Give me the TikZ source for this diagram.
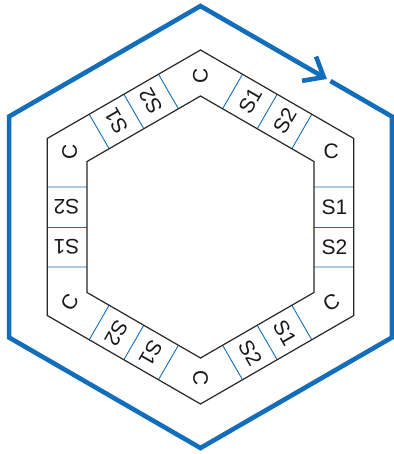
\documentclass[tikz,border=0pt]{standalone}
\usepackage{fontspec}
\setmainfont{Liberation Sans}
\usetikzlibrary{arrows.meta}
\definecolor{ringblue}{RGB}{18,110,186}

\begin{document}
\begin{tikzpicture}[scale=0.3515,
    ring/.style={ringblue, line width=4.6pt, line join=miter},
    band/.style={black!85, line width=1.2pt},
    divider/.style={ringblue, line width=0.9pt},
    cell/.style={black!90, font=\fontsize{21}{24}\selectfont, inner sep=0pt}]
    \useasboundingbox (-20.05, -22.7) rectangle (19.35, 22.7);

    % rotation arrow
    \coordinate (gap) at (12.99, 14.6);
    \coordinate (tip) at (12.64, 14.8);
    \draw[ring, -{Straight Barb[length=17pt, width=28pt]}] (gap) -- (30:22.1) -- (-30:22.1)
        -- (-90:22.1) -- (-150:22.1) -- (150:22.1) -- (90:22.1) -- (tip);

    % dividers
        % upper right
        \draw[divider] (79.42:12.03) -- (74.62:15.84); \draw[divider] (60:11.34) -- (60:15.33);
        \draw[divider] (40.58:12.03) -- (45.38:15.84);
        % right
        \draw[divider] (19.42:12.03) -- (14.62:15.84); \draw[divider] (0:11.34) -- (0:15.33);
        \draw[divider] (-19.42:12.03) -- (-14.62:15.84);
        % lower right
        \draw[divider] (-40.58:12.03) -- (-45.38:15.84); \draw[divider] (-60:11.34) -- (-60:15.33);
        \draw[divider] (-79.42:12.03) -- (-74.62:15.84);
        % lower left
        \draw[divider] (-100.58:12.03) -- (-105.38:15.84); \draw[divider] (-120:11.34) -- (-120:15.33);
        \draw[divider] (-139.42:12.03) -- (-134.62:15.84);
        % left
        \draw[divider] (199.42:12.03) -- (194.62:15.84); \draw[divider] (180:11.34) -- (180:15.33);
        \draw[divider] (160.58:12.03) -- (165.38:15.84);
        % upper left
        \draw[divider] (139.42:12.03) -- (134.62:15.84); \draw[divider] (120:11.34) -- (120:15.33);
        \draw[divider] (100.58:12.03) -- (105.38:15.84);

    % band
    \draw[band] (90:17.7) -- (30:17.7) -- (-30:17.7) -- (-90:17.7) -- (-150:17.7) -- (150:17.7) -- cycle;
    \draw[band] (90:13.1) -- (30:13.1) -- (-30:13.1) -- (-90:13.1) -- (-150:13.1) -- (150:13.1) -- cycle;

    % corners
    \node[cell, rotate=90] (cT) at (90:15.1) {C};
    \node[cell] (cUR) at (30:15.1) {C};
    \node[cell, rotate=30] (cLR) at (-30:15.1) {C};
    \node[cell, rotate=-90] (cB) at (-90:15.1) {C};
    \node[cell, rotate=60] (cLL) at (-150:15.1) {C};
    \node[cell, rotate=90] (cUL) at (150:15.1) {C};

    % cells
    \node[cell, rotate=60] (ur1) at (68.49:13.55) {S1};
    \node[cell, rotate=60] (ur2) at (51.51:13.55) {S2};
    \node[cell] (r1) at (8.49:13.55) {S1};
    \node[cell] (r2) at (-8.49:13.55) {S2};
    \node[cell, rotate=-60] (lr1) at (-51.51:13.55) {S1};
    \node[cell, rotate=-60] (lr2) at (-68.49:13.55) {S2};
    \node[cell, rotate=-120] (ll1) at (-111.51:13.55) {S1};
    \node[cell, rotate=-120] (ll2) at (-128.49:13.55) {S2};
    \node[cell, rotate=180] (l1) at (188.49:13.55) {S1};
    \node[cell, rotate=180] (l2) at (171.51:13.55) {S2};
    \node[cell, rotate=120] (ul1) at (128.49:13.55) {S1};
    \node[cell, rotate=120] (ul2) at (111.51:13.55) {S2};

\end{tikzpicture}
\end{document}
